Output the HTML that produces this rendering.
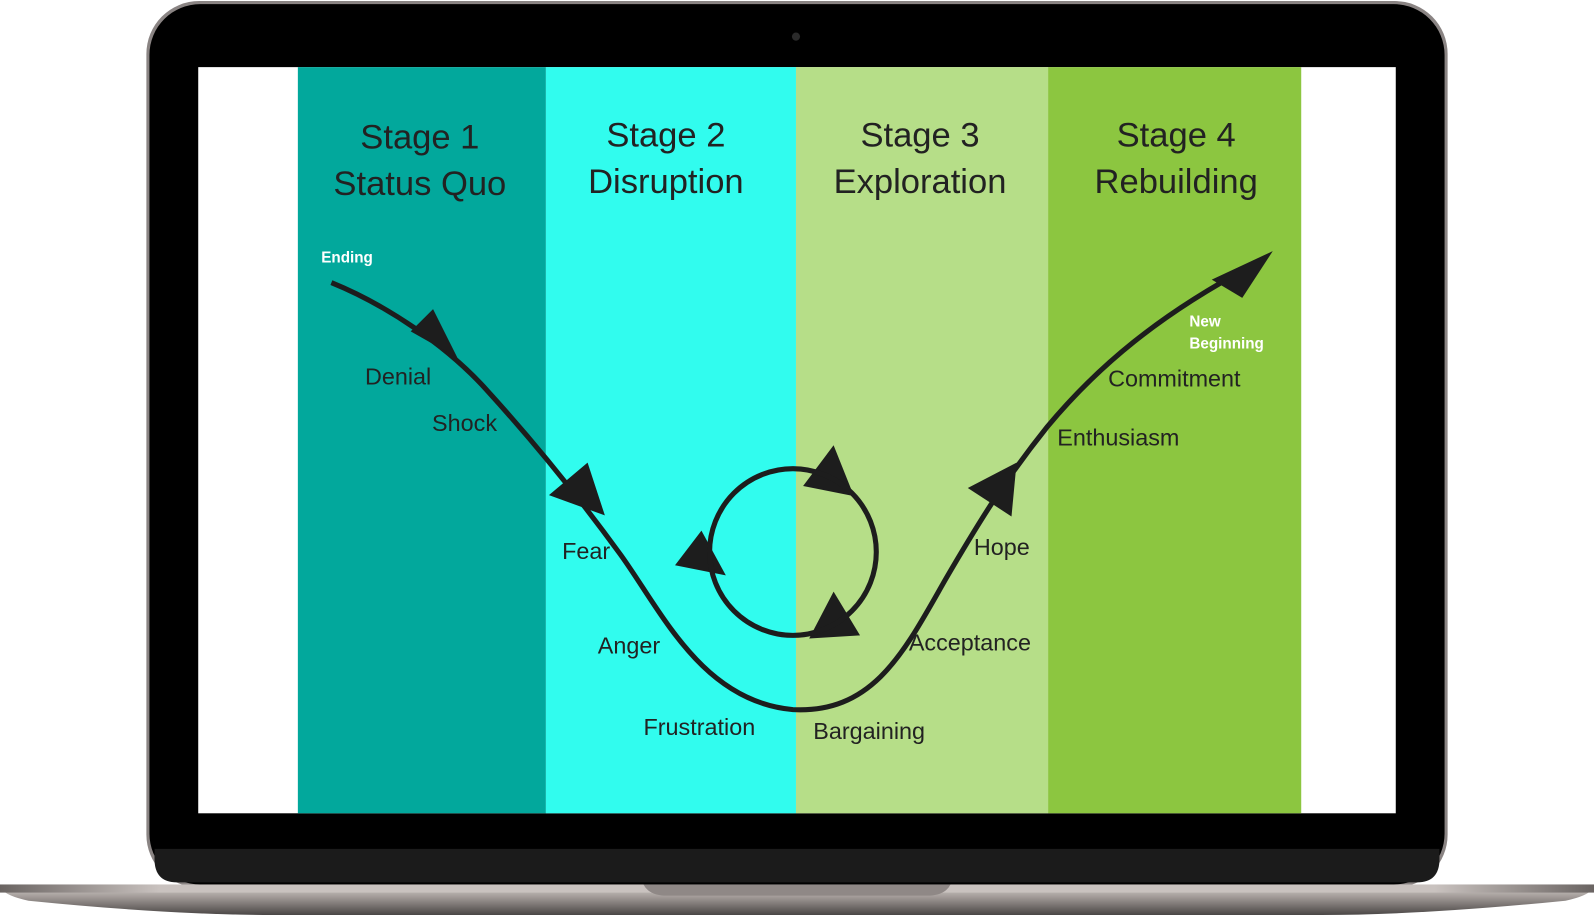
<!DOCTYPE html>
<html><head><meta charset="utf-8"><style>
html,body{margin:0;padding:0;background:#fff;width:1594px;height:916px;overflow:hidden}
svg{display:block}
text{font-family:"Liberation Sans",sans-serif}
</style></head><body>
<svg width="1594" height="916" viewBox="0 0 1568 901" xmlns="http://www.w3.org/2000/svg">
<defs>
<linearGradient id="base" x1="0" y1="0" x2="0" y2="1">
<stop offset="0" stop-color="#d8d2cf"/><stop offset="0.4" stop-color="#a39c99"/><stop offset="1" stop-color="#4a4645"/>
</linearGradient>
<linearGradient id="baseh" x1="0" y1="0" x2="1" y2="0">
<stop offset="0" stop-color="#6a6462"/><stop offset="0.1" stop-color="#c9c2bf"/><stop offset="0.9" stop-color="#c9c2bf"/><stop offset="1" stop-color="#6a6462"/>
</linearGradient>
<marker id="ah" viewBox="0 0 10 10" refX="5" refY="5" markerWidth="1" markerHeight="1" orient="auto"><path d="M0,0 L10,5 L0,10z" fill="#1d1d1d"/></marker>
</defs>
<!-- laptop lid -->
<rect x="144" y="1" width="1280" height="872" rx="52" fill="#8a8483"/>
<rect x="147" y="4" width="1274" height="866" rx="50" fill="#000"/>
<path d="M152 835 H1416 V845 Q1416 868 1394 868 H174 Q152 868 152 845Z" fill="#1b1b1b"/>
<circle cx="783" cy="36" r="4" fill="#2a2a2a"/>
<!-- screen -->
<rect x="195" y="66" width="1178" height="734" fill="#fff"/>
<rect x="293" y="66" width="244" height="734" fill="#02a89c"/>
<rect x="537" y="66" width="246" height="734" fill="#31fcee"/>
<rect x="783" y="66" width="248" height="734" fill="#b6de88"/>
<rect x="1031" y="66" width="249" height="734" fill="#8cc640"/>
<!-- titles -->
<g font-size="34" fill="#222" text-anchor="middle">
<text x="413" y="146">Stage 1</text><text x="413" y="192">Status Quo</text>
<text x="655" y="144">Stage 2</text><text x="655" y="190">Disruption</text>
<text x="905" y="144">Stage 3</text><text x="905" y="190">Exploration</text>
<text x="1157" y="144">Stage 4</text><text x="1157" y="190">Rebuilding</text>
</g>
<!-- curve -->
<path d="M326 278 C380 300 440 340 480 385 C530 440 570 490 610 545 C650 600 690 690 780 698 C860 702 890 640 930 570 C965 510 990 470 1030 420 C1080 360 1140 310 1230 262" fill="none" stroke="#1d1d1d" stroke-width="5"/>
<g fill="#1d1d1d">
<polygon points="426,304 404,326 450,352"/>
<polygon points="578,455 540,487 595,507"/>
<polygon points="1000,455 952,480 995,508"/>
<polygon points="1252,247 1192,275 1222,293"/>
<polygon points="820,438 790,478 840,488"/>
<polygon points="820,582 796,628 846,625"/>
<polygon points="690,522 664,556 714,566"/>
</g>
<circle cx="780" cy="543" r="82" fill="none" stroke="#1d1d1d" stroke-width="5"/>
<!-- labels -->
<g font-size="23" fill="#222">
<text x="359" y="378">Denial</text>
<text x="425" y="424">Shock</text>
<text x="553" y="550">Fear</text>
<text x="588" y="643">Anger</text>
<text x="633" y="723">Frustration</text>
<text x="800" y="727">Bargaining</text>
<text x="894" y="640">Acceptance</text>
<text x="958" y="546">Hope</text>
<text x="1040" y="438">Enthusiasm</text>
<text x="1090" y="380">Commitment</text>
</g>
<g font-size="15" font-weight="bold" fill="#fff">
<text x="316" y="258">Ending</text>
<text x="1170" y="321">New</text>
<text x="1170" y="343">Beginning</text>
</g>
<!-- base -->
<path d="M0 870 H1568 Q1568 880 1540 886 Q1400 900 1300 900 H268 Q168 900 28 886 Q0 880 0 870Z" fill="url(#base)"/>
<rect x="0" y="870" width="1568" height="8" fill="url(#baseh)"/>
<path d="M633 870 H935 Q930 880 915 881 H653 Q638 880 633 870Z" fill="#8f8886"/>
</svg>
</body></html>
